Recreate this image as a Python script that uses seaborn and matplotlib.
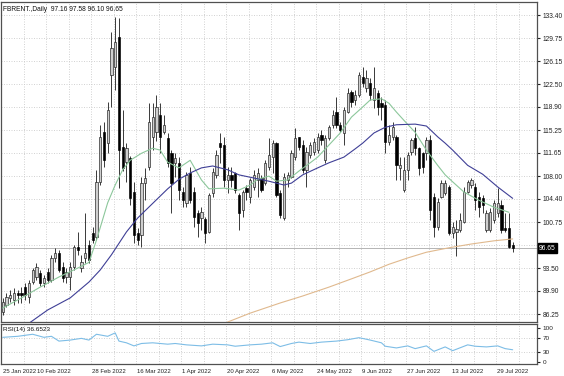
import matplotlib
matplotlib.use("Agg")
import matplotlib.pyplot as plt
import matplotlib.transforms as mtransforms
import numpy as np
import seaborn as sns

# Daily candles, 25 Jan 2022 .. 4 Aug 2022
opens = [86.6, 87.7, 88.8, 88.5, 89.6, 89.6, 90.5, 88.9, 91.3, 92.1,
         92.7, 91.1, 92.9, 91.6, 95.1, 95.9, 93.7, 92.1, 92.1, 93.7,
         96.8, 93.5, 95.1, 97.1, 99.0, 98.4, 107.1, 114.9, 113.2, 123.9,
         125.2, 129.9, 112.6, 110.2, 110.8, 105.5, 99.0, 98.7, 106.9, 109.4,
         114.2, 115.0, 117.6, 114.9, 114.0, 111.6, 110.1, 110.1, 105.5, 103.8,
         108.5, 105.5, 102.2, 101.4, 101.2, 99.2, 105.3, 108.2, 113.2, 112.9,
         107.4, 108.2, 108.5, 105.0, 102.6, 106.1, 104.7, 106.3, 107.4, 107.7,
         106.9, 109.4, 111.0, 113.2, 105.3, 101.4, 107.4, 107.9, 111.0, 114.2,
         112.9, 109.0, 111.3, 111.8, 112.1, 114.5, 110.5, 114.0, 116.1, 118.1,
         116.1, 114.8, 118.1, 121.3, 120.0, 120.8, 123.6, 121.9, 122.7, 120.0,
         121.1, 119.5, 119.2, 113.4, 114.2, 114.2, 109.3, 105.8, 109.0, 111.8,
         114.0, 112.4, 111.6, 111.6, 113.7, 104.7, 100.0, 104.7, 105.3, 106.3,
         99.0, 99.2, 99.5, 100.8, 105.5, 106.6, 106.3, 104.7, 104.5, 99.5,
         99.5, 101.1, 102.2, 103.4, 99.8, 99.8, 97.16]
highs = [88.8, 89.6, 90.0, 90.3, 90.0, 90.5, 91.1, 91.6, 93.5, 94.3,
         93.2, 92.4, 93.5, 95.6, 96.7, 96.3, 94.4, 93.5, 94.4, 97.1,
         99.2, 95.6, 102.2, 97.9, 100.0, 109.0, 116.0, 116.5, 119.7, 130.7,
         133.1, 132.9, 118.4, 113.2, 111.2, 107.0, 99.8, 107.9, 109.3, 119.5,
         119.5, 120.8, 119.5, 117.6, 114.8, 112.1, 111.6, 111.0, 106.3, 108.6,
         109.4, 106.3, 102.6, 103.1, 101.5, 105.3, 109.3, 112.1, 114.8, 114.2,
         109.4, 109.4, 108.6, 105.3, 105.8, 106.6, 107.7, 109.0, 109.3, 108.2,
         110.5, 114.0, 113.7, 113.4, 105.8, 108.5, 108.6, 112.1, 115.6, 114.2,
         113.7, 112.6, 113.4, 114.0, 114.8, 115.3, 114.5, 116.1, 118.4, 120.5,
         116.5, 118.9, 121.9, 121.6, 121.6, 124.4, 125.2, 124.7, 123.5, 125.2,
         121.6, 120.5, 120.0, 116.1, 116.5, 114.5, 111.0, 111.0, 111.8, 114.0,
         115.7, 112.6, 111.8, 114.2, 114.5, 105.3, 104.5, 107.4, 107.4, 106.6,
         100.8, 101.1, 102.2, 106.3, 107.4, 107.7, 106.9, 105.5, 105.0, 102.6,
         103.0, 104.2, 106.1, 104.2, 102.2, 102.2, 97.58]
lows = [86.1, 87.4, 88.1, 87.7, 88.0, 88.0, 88.5, 88.0, 91.0, 91.6,
        90.7, 90.5, 91.1, 91.3, 94.4, 92.9, 91.3, 91.1, 90.0, 93.2,
        95.6, 92.9, 94.3, 94.3, 97.4, 97.9, 106.6, 109.4, 111.6, 118.9,
        121.6, 106.1, 108.8, 107.1, 103.5, 97.4, 97.1, 96.8, 104.2, 109.0,
        112.1, 113.5, 111.6, 114.6, 109.5, 102.2, 107.9, 104.2, 103.1, 103.1,
        103.8, 100.0, 98.4, 99.5, 97.4, 99.0, 104.7, 107.7, 110.1, 106.3,
        105.3, 106.3, 105.3, 99.5, 101.5, 104.2, 103.8, 105.8, 104.7, 105.5,
        106.6, 109.0, 108.5, 104.7, 101.4, 101.1, 106.3, 107.7, 110.5, 112.1,
        108.5, 106.3, 110.9, 111.3, 111.6, 112.9, 110.1, 113.7, 115.6, 115.6,
        114.9, 112.9, 117.9, 118.9, 119.2, 120.5, 122.0, 121.3, 120.0, 118.7,
        117.6, 116.8, 111.6, 112.9, 113.7, 107.4, 107.4, 105.5, 107.4, 111.3,
        111.3, 108.2, 108.5, 110.5, 101.1, 98.4, 99.5, 104.5, 105.0, 98.7,
        98.2, 95.4, 99.2, 100.6, 105.3, 106.1, 102.6, 101.5, 102.2, 99.2,
        99.2, 100.6, 101.5, 99.0, 99.2, 96.7, 96.10]
closes = [88.1, 88.9, 89.2, 89.6, 89.2, 89.3, 89.2, 91.1, 93.2, 93.7,
          91.1, 91.9, 91.6, 95.1, 95.9, 93.2, 91.9, 92.9, 93.7, 96.8,
          96.3, 94.4, 95.9, 94.8, 97.9, 107.1, 114.2, 110.5, 118.4, 128.2,
          129.1, 112.1, 109.3, 112.4, 104.6, 98.7, 97.9, 106.9, 107.7, 116.5,
          117.3, 118.9, 114.2, 116.0, 110.0, 106.9, 110.9, 105.8, 104.2, 108.2,
          104.2, 101.5, 100.6, 102.3, 99.0, 105.0, 108.6, 111.3, 112.6, 107.4,
          108.2, 107.4, 105.8, 102.2, 105.5, 105.5, 107.4, 108.2, 108.5, 105.8,
          110.1, 111.3, 113.2, 105.0, 101.9, 107.9, 108.2, 111.6, 114.0, 112.6,
          109.0, 111.8, 112.9, 113.4, 114.2, 113.7, 114.0, 115.7, 117.6, 116.1,
          115.3, 118.4, 121.1, 119.7, 120.8, 123.9, 122.7, 123.5, 120.8, 121.9,
          118.9, 118.9, 113.4, 114.5, 115.7, 109.7, 109.7, 109.0, 111.3, 113.7,
          112.4, 109.3, 109.4, 113.7, 102.6, 100.0, 103.9, 106.9, 106.9, 99.0,
          100.0, 99.7, 101.1, 105.5, 107.1, 107.4, 104.2, 103.1, 103.4, 102.2,
          102.3, 103.7, 103.7, 99.5, 99.5, 96.8, 96.65]

# moving averages, read at a set of bars
fast_ma_bars = [0, 5, 10, 15, 20, 23, 25, 28, 30, 32, 34, 37, 40, 42, 44, 47, 50, 53, 55, 59,
                63, 66, 68, 71, 73, 76, 79, 82, 84, 87, 90, 93, 96, 98, 101, 103, 105, 107,
                110, 113, 116, 118, 120, 123, 127, 131, 135]
fast_ma = [87.2, 88.8, 90.5, 92.1, 93.5, 94.4, 97.9, 103.8, 106.6, 109.0, 110.5, 111.6, 112.4,
           112.1, 110.2, 109.3, 110.5, 107.4, 106.0, 106.1, 105.8, 106.6, 107.5, 108.0, 107.2,
           107.4, 108.8, 110.1, 111.0, 112.9, 114.8, 117.3, 118.9, 120.0, 120.2, 119.5, 118.1,
           116.8, 114.9, 112.1, 109.7, 108.2, 107.1, 105.5, 104.2, 103.1, 102.3]
slow_ma_bars = [4, 7, 12, 18, 23, 26, 29, 33, 36, 40, 44, 47, 50, 53, 56, 60, 63, 67, 71, 75,
                77, 80, 84, 87, 91, 94, 96, 99, 102, 105, 110, 113, 116, 118, 120, 124, 128,
                132, 136]
slow_ma = [83.3, 84.8, 86.9, 88.8, 91.3, 93.2, 95.6, 99.2, 101.4, 103.7, 106.0, 107.5, 108.5,
           109.3, 109.6, 109.0, 108.2, 107.7, 107.2, 106.6, 106.9, 108.2, 109.3, 110.1, 111.0,
           112.3, 113.2, 114.8, 115.7, 116.1, 116.2, 115.9, 114.2, 113.2, 112.1, 109.7, 108.3,
           106.3, 104.5]
long_ma_bars = [57, 60, 66, 74, 80, 87, 93, 98, 103, 108, 113, 119, 125, 131, 136]
long_ma = [84.0, 85.0, 86.4, 88.0, 89.1, 90.5, 91.8, 92.9, 94.1, 95.1, 96.0, 96.7, 97.3,
           97.8, 98.1]

# RSI(14)
rsi_bars = [0, 4, 8, 11, 13, 15, 18, 21, 23, 25, 28, 30, 31, 33, 35, 37, 40, 44, 46, 49,
            53, 56, 60, 62, 66, 69, 72, 74, 77, 79, 82, 85, 89, 92, 95, 98, 101, 102, 105,
            108, 110, 113, 115, 118, 120, 124, 126, 129, 132, 134, 136]
rsi = [73, 76, 82, 73, 76, 62, 65, 70, 65, 82, 76, 86, 62, 57, 48, 55, 57, 53, 55, 51,
       48, 53, 51, 47, 51, 53, 57, 46, 55, 59, 55, 59, 62, 66, 72, 65, 57, 47, 42,
       48, 40, 48, 32, 45, 34, 51, 47, 45, 48, 40, 36.65]

price_ticks = [133.40, 129.75, 126.15, 122.50, 118.90, 115.25, 111.65, 108.00,
               104.40, 100.75, 97.10, 93.50, 89.90, 86.25]
date_labels = ["25 Jan 2022", "10 Feb 2022", "28 Feb 2022", "16 Mar 2022", "1 Apr 2022",
               "20 Apr 2022", "6 May 2022", "24 May 2022", "9 Jun 2022", "27 Jun 2022",
               "13 Jul 2022", "29 Jul 2022"]
date_bars = [0, 9.1, 23.7, 35.7, 47.7, 59.7, 71.7, 83.7, 95.7, 107.7, 119.7, 131.7]


def main():
    sns.set_style("white")
    plt.rcParams["font.family"] = ["Liberation Sans", "DejaVu Sans"]

    fig = plt.figure(figsize=(5.64, 3.76), dpi=100)
    ax = fig.add_axes([0.0018, 0.1436, 0.9504, 0.851])
    ax_rsi = fig.add_axes([0.0018, 0.0319, 0.9504, 0.1064])

    idx = np.arange(len(closes))
    o = np.array(opens)
    c = np.array(closes)
    up = c >= o

    grid_kw = dict(color="#cccccc", linestyle=(0, (1.2, 1.8)), linewidth=0.6)
    grid_bars = np.arange(6, 143, 6) - 0.35
    xlim = (-0.45, 142.5)
    last = closes[-1]

    # --- price panel ---
    ax.set_xlim(*xlim)
    ax.set_ylim(85.0, 135.45)
    for g in grid_bars:
        ax.axvline(g, zorder=0, **grid_kw)
    for t in price_ticks:
        ax.axhline(t, zorder=0, **grid_kw)

    ax.vlines(idx, lows, highs, color="#1a1a1a", linewidth=0.6, zorder=2)
    body_low = np.minimum(o, c)
    body_h = np.maximum(np.abs(c - o), 0.12)
    ax.bar(idx[up], body_h[up], bottom=body_low[up], width=0.62,
           color="#cfcfcf", edgecolor="#1a1a1a", linewidth=0.45, zorder=3)
    ax.bar(idx[~up], body_h[~up], bottom=body_low[~up], width=0.62,
           color="#000000", edgecolor="#000000", linewidth=0.45, zorder=3)

    sns.lineplot(x=fast_ma_bars, y=fast_ma, ax=ax, color="#8cc79b", linewidth=0.8, zorder=4)
    sns.lineplot(x=slow_ma_bars, y=slow_ma, ax=ax, color="#3f3f96", linewidth=0.8, zorder=4)
    sns.lineplot(x=long_ma_bars, y=long_ma, ax=ax, color="#e0b98e", linewidth=0.8, zorder=4)

    ax.axhline(last, color="#a8a8a8", linewidth=0.6, zorder=1)

    # the 97.10 level is covered by the last-price box, as in the reference
    ax.yaxis.tick_right()
    ax.set_yticks(price_ticks)
    ax.set_yticklabels(["" if abs(t - 97.10) < 0.01 else f"{t:.2f}" for t in price_ticks])
    ax.tick_params(axis="y", length=2, pad=2, labelsize=4.8, colors="#222222")
    ax.set_xticks([])
    ax.set_xlabel("")
    ax.set_ylabel("")

    trans = mtransforms.blended_transform_factory(ax.transAxes, ax.transData)
    ax.text(1.004, last, f"{last:.2f}", transform=trans, fontsize=4.8, color="white",
            va="center", ha="left", zorder=10, clip_on=False,
            bbox=dict(facecolor="black", edgecolor="black", pad=0.9))
    ax.text(0.004, 0.988, "FBRENT.,Daily  97.16 97.58 96.10 96.65", transform=ax.transAxes,
            fontsize=4.8, va="top", ha="left", color="#111111")

    # --- RSI panel ---
    ax_rsi.set_xlim(*xlim)
    ax_rsi.set_ylim(-5, 112)
    for g in grid_bars:
        ax_rsi.axvline(g, zorder=0, **grid_kw)
    for lvl in (30, 70):
        ax_rsi.axhline(lvl, zorder=0, **grid_kw)
    sns.lineplot(x=rsi_bars, y=rsi, ax=ax_rsi, color="#7dbde6", linewidth=0.8)
    ax_rsi.yaxis.tick_right()
    ax_rsi.set_yticks([100, 70, 30, 0])
    ax_rsi.set_yticklabels(["100", "70", "30", "0"])
    ax_rsi.tick_params(axis="y", length=2, pad=2, labelsize=4.6, colors="#222222")
    ax_rsi.set_xticks(date_bars)
    ax_rsi.set_xticklabels(date_labels, ha="left")
    ax_rsi.tick_params(axis="x", length=2, pad=1.5, labelsize=4.3, colors="#222222")
    ax_rsi.set_xlabel("")
    ax_rsi.set_ylabel("")
    ax_rsi.text(0.004, 0.93, "RSI(14) 36.6523", transform=ax_rsi.transAxes,
                fontsize=4.6, va="top", ha="left", color="#111111")

    for a in (ax, ax_rsi):
        for s in a.spines.values():
            s.set_color("#505050")
            s.set_linewidth(0.9)

    fig.savefig("out.png", dpi=100)
    plt.close(fig)


if __name__ == "__main__":
    main()
